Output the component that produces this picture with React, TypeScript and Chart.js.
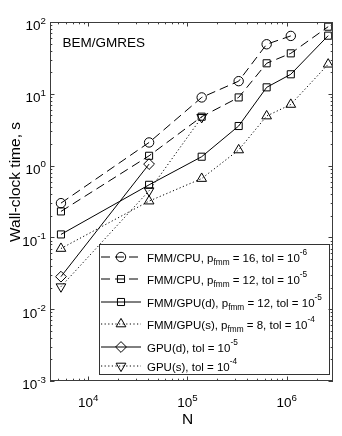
import React, { useEffect, useRef } from 'react';
import { Chart, registerables } from 'chart.js';

Chart.register(...registerables);

// ---- data ----
const nFull = [5300, 41000, 139000, 328000, 628000, 1100000, 2620000];
const nCpu16 = [5300, 41000, 139000, 328000, 628000, 1100000];
const tCpu16 = [0.30, 2.1, 8.9, 15, 49, 64];
const tCpu12 = [0.23, 1.37, 4.8, 8.9, 26.6, 36.6, 86];
const tFmmGpuD = [0.11, 0.54, 1.33, 3.56, 12.3, 18.7, 64.5];
const tFmmGpuS = [0.07, 0.32, 0.66, 1.65, 4.9, 7.1, 25.8];
const nGpuD = [5300, 41000];
const tGpuD = [0.0284, 1.05];
const nGpuS = [5300, 41000, 139000];
const tGpuS = [0.0206, 0.447, 4.7];

const xMin = 4110;
const xMax = 2930000;
const yMin = 1e-3;
const yMax = 1e2;
const xTickExps = [4, 5, 6];
const yTickExps = [-3, -2, -1, 0, 1, 2];

const xTitle = 'N';
const yTitle = 'Wall-clock time, s';
const annotation = 'BEM/GMRES';

type Seg = { t: string; sub?: boolean; sup?: boolean };
const legendLabels: Seg[][] = [
  [{ t: 'FMM/CPU, p' }, { t: 'fmm', sub: true }, { t: ' = 16, tol = 10' }, { t: '-6', sup: true }],
  [{ t: 'FMM/CPU, p' }, { t: 'fmm', sub: true }, { t: ' = 12, tol = 10' }, { t: '-5', sup: true }],
  [{ t: 'FMM/GPU(d), p' }, { t: 'fmm', sub: true }, { t: ' = 12, tol = 10' }, { t: '-5', sup: true }],
  [{ t: 'FMM/GPU(s), p' }, { t: 'fmm', sub: true }, { t: ' = 8, tol = 10' }, { t: '-4', sup: true }],
  [{ t: 'GPU(d), tol = 10' }, { t: '-5', sup: true }],
  [{ t: 'GPU(s), tol = 10' }, { t: '-4', sup: true }],
];

const FONT = '"Liberation Sans", Arial, Helvetica, sans-serif';
const DASH = [9, 5];
const DOT = [1.2, 2.4];

type Mk = { style: string; r: number; rot?: number };
const markers: Mk[] = [
  { style: 'circle', r: 4.7 },
  { style: 'rect', r: 5 },
  { style: 'rect', r: 5 },
  { style: 'triangle', r: 5.6 },
  { style: 'rectRot', r: 5.4 },
  { style: 'triangle', r: 5.6, rot: 180 },
];
const dashes = [DASH, DASH, [], DOT, [], DOT];

function pts(xs: number[], ys: number[]) {
  return xs.map((x, i) => ({ x, y: ys[i] }));
}

function drawMarker(ctx: CanvasRenderingContext2D, m: Mk, x: number, y: number) {
  ctx.save();
  ctx.setLineDash([]);
  ctx.strokeStyle = '#000';
  ctx.lineWidth = 1;
  ctx.beginPath();
  if (m.style === 'circle') {
    ctx.arc(x, y, m.r, 0, Math.PI * 2);
  } else if (m.style === 'rect') {
    const s = Math.SQRT1_2 * m.r;
    ctx.rect(x - s, y - s, 2 * s, 2 * s);
  } else if (m.style === 'rectRot') {
    ctx.moveTo(x, y - m.r);
    ctx.lineTo(x + m.r, y);
    ctx.lineTo(x, y + m.r);
    ctx.lineTo(x - m.r, y);
    ctx.closePath();
  } else if (m.style === 'triangle') {
    let a = ((m.rot || 0) * Math.PI) / 180;
    for (let k = 0; k < 3; k++) {
      const px = x + Math.sin(a) * m.r;
      const py = y - Math.cos(a) * m.r;
      if (k === 0) ctx.moveTo(px, py);
      else ctx.lineTo(px, py);
      a += (2 * Math.PI) / 3;
    }
    ctx.closePath();
  }
  ctx.stroke();
  ctx.restore();
}

function drawSegs(ctx: CanvasRenderingContext2D, segs: Seg[], x: number, baseline: number, size: number) {
  let cx = x;
  for (const s of segs) {
    const fs = s.sub || s.sup ? size * 0.72 : size;
    ctx.font = `${fs}px ${FONT}`;
    const dy = s.sub ? 3 : s.sup ? -6.5 : 0;
    ctx.fillText(s.t, cx, baseline + dy);
    cx += ctx.measureText(s.t).width;
  }
}

function segsWidth(ctx: CanvasRenderingContext2D, segs: Seg[], size: number) {
  let w = 0;
  for (const s of segs) {
    const fs = s.sub || s.sup ? size * 0.72 : size;
    ctx.font = `${fs}px ${FONT}`;
    w += ctx.measureText(s.t).width;
  }
  return w;
}

const decorPlugin = {
  id: 'decor',
  afterDatasetsDraw(chart: any) {
    const ctx: CanvasRenderingContext2D = chart.ctx;
    const { left, top, right, bottom } = chart.chartArea;
    const xs = chart.scales.x;
    const ys = chart.scales.y;
    ctx.save();
    ctx.fillStyle = '#000';
    ctx.textBaseline = 'alphabetic';

    // annotation
    ctx.font = `13.5px ${FONT}`;
    ctx.textAlign = 'left';
    ctx.fillText(annotation, left + 12.5, top + 24.5);

    // legend box
    const lx0 = 99.5, ly0 = 244.5, lx1 = 329.5, ly1 = 374.5;
    ctx.fillStyle = '#fff';
    ctx.fillRect(lx0, ly0, lx1 - lx0, ly1 - ly0);
    ctx.strokeStyle = '#333';
    ctx.lineWidth = 1;
    ctx.strokeRect(lx0, ly0, lx1 - lx0, ly1 - ly0);
    const rowOff = [12.5, 34.5, 57.5, 79.5, 102.5, 121.5];
    legendLabels.forEach((segs, i) => {
      const y = ly0 + rowOff[i];
      ctx.save();
      ctx.strokeStyle = '#000';
      ctx.lineWidth = 1;
      ctx.setLineDash(dashes[i]);
      ctx.beginPath();
      ctx.moveTo(101, y);
      ctx.lineTo(141, y);
      ctx.stroke();
      ctx.restore();
      drawMarker(ctx, markers[i], 121, y);
      ctx.fillStyle = '#000';
      ctx.textAlign = 'left';
      drawSegs(ctx, segs, 147, y + 4.5, 11.5);
    });

    // axes box
    ctx.strokeStyle = '#3c3c3c';
    ctx.lineWidth = 1;
    ctx.setLineDash([]);
    ctx.strokeRect(left + 0.5, top + 0.5, right - left - 1, bottom - top - 1);

    // ticks
    ctx.beginPath();
    for (let e = 3; e <= 6; e++) {
      for (let k = 1; k <= 9; k++) {
        const v = k * Math.pow(10, e);
        if (v < xMin || v > xMax) continue;
        const px = Math.round(xs.getPixelForValue(v)) + 0.5;
        const len = k === 1 ? 4.5 : 2.3;
        ctx.moveTo(px, bottom);
        ctx.lineTo(px, bottom - len);
        ctx.moveTo(px, top);
        ctx.lineTo(px, top + len);
      }
    }
    for (let e = -3; e <= 2; e++) {
      for (let k = 1; k <= 9; k++) {
        const v = k * Math.pow(10, e);
        if (v < yMin || v > yMax) continue;
        const py = Math.round(ys.getPixelForValue(v)) + 0.5;
        const len = k === 1 ? 4.5 : 2.3;
        ctx.moveTo(left, py);
        ctx.lineTo(left + len, py);
        ctx.moveTo(right, py);
        ctx.lineTo(right - len, py);
      }
    }
    ctx.stroke();

    // tick labels
    ctx.fillStyle = '#000';
    ctx.textAlign = 'left';
    for (const e of yTickExps) {
      const py = ys.getPixelForValue(Math.pow(10, e));
      const segs: Seg[] = [{ t: '10' }, { t: String(e), sup: true }];
      const w = segsWidth(ctx, segs, 13.5);
      drawSegs(ctx, segs, left - 4 - w, py + 8.3, 13.5);
    }
    for (const e of xTickExps) {
      const px = xs.getPixelForValue(Math.pow(10, e));
      const segs: Seg[] = [{ t: '10' }, { t: String(e), sup: true }];
      const w = segsWidth(ctx, segs, 13.5);
      drawSegs(ctx, segs, px - w / 2, bottom + 26, 13.5);
    }

    // axis titles
    ctx.font = `15.5px ${FONT}`;
    ctx.textAlign = 'center';
    ctx.textBaseline = 'alphabetic';
    ctx.fillText(xTitle, xs.getPixelForValue(1e5), bottom + 43);
    ctx.save();
    ctx.translate(19.5, 182);
    ctx.rotate(-Math.PI / 2);
    ctx.fillText(yTitle, 0, 0);
    ctx.restore();

    ctx.restore();
  },
};

export default function App() {
  const ref = useRef<HTMLCanvasElement | null>(null);
  useEffect(() => {
    if (!ref.current) return;
    const base = {
      borderColor: '#000',
      borderWidth: 1,
      pointBorderColor: '#000',
      pointBackgroundColor: 'rgba(0,0,0,0)',
      pointBorderWidth: 1,
      fill: false,
      tension: 0,
    };
    const series = [
      { label: 'FMM/CPU p16', data: pts(nCpu16, tCpu16) },
      { label: 'FMM/CPU p12', data: pts(nFull, tCpu12) },
      { label: 'FMM/GPU(d)', data: pts(nFull, tFmmGpuD) },
      { label: 'FMM/GPU(s)', data: pts(nFull, tFmmGpuS) },
      { label: 'GPU(d)', data: pts(nGpuD, tGpuD) },
      { label: 'GPU(s)', data: pts(nGpuS, tGpuS) },
    ];
    const chart = new Chart(ref.current, {
      type: 'line',
      data: {
        datasets: series.map((s, i) => ({
          ...base,
          ...s,
          borderDash: dashes[i],
          pointStyle: markers[i].style as any,
          pointRadius: markers[i].r,
          pointRotation: markers[i].rot || 0,
          pointHoverRadius: markers[i].r,
        })),
      },
      options: {
        animation: false,
        responsive: false,
        devicePixelRatio: 1,
        events: [],
        layout: { padding: { left: 50, top: 22, right: 9, bottom: 55 } },
        plugins: { legend: { display: false }, tooltip: { enabled: false }, title: { display: false } },
        scales: {
          x: { type: 'logarithmic', min: xMin, max: xMax, display: false },
          y: { type: 'logarithmic', min: yMin, max: yMax, display: false },
        },
      },
      plugins: [decorPlugin],
    } as any);
    return () => chart.destroy();
  }, []);
  return (
    <div style={{ position: 'fixed', left: 0, top: 0, width: 342, height: 436, background: '#fff' }}>
      <canvas ref={ref} width={342} height={436} style={{ display: 'block' }} />
    </div>
  );
}
